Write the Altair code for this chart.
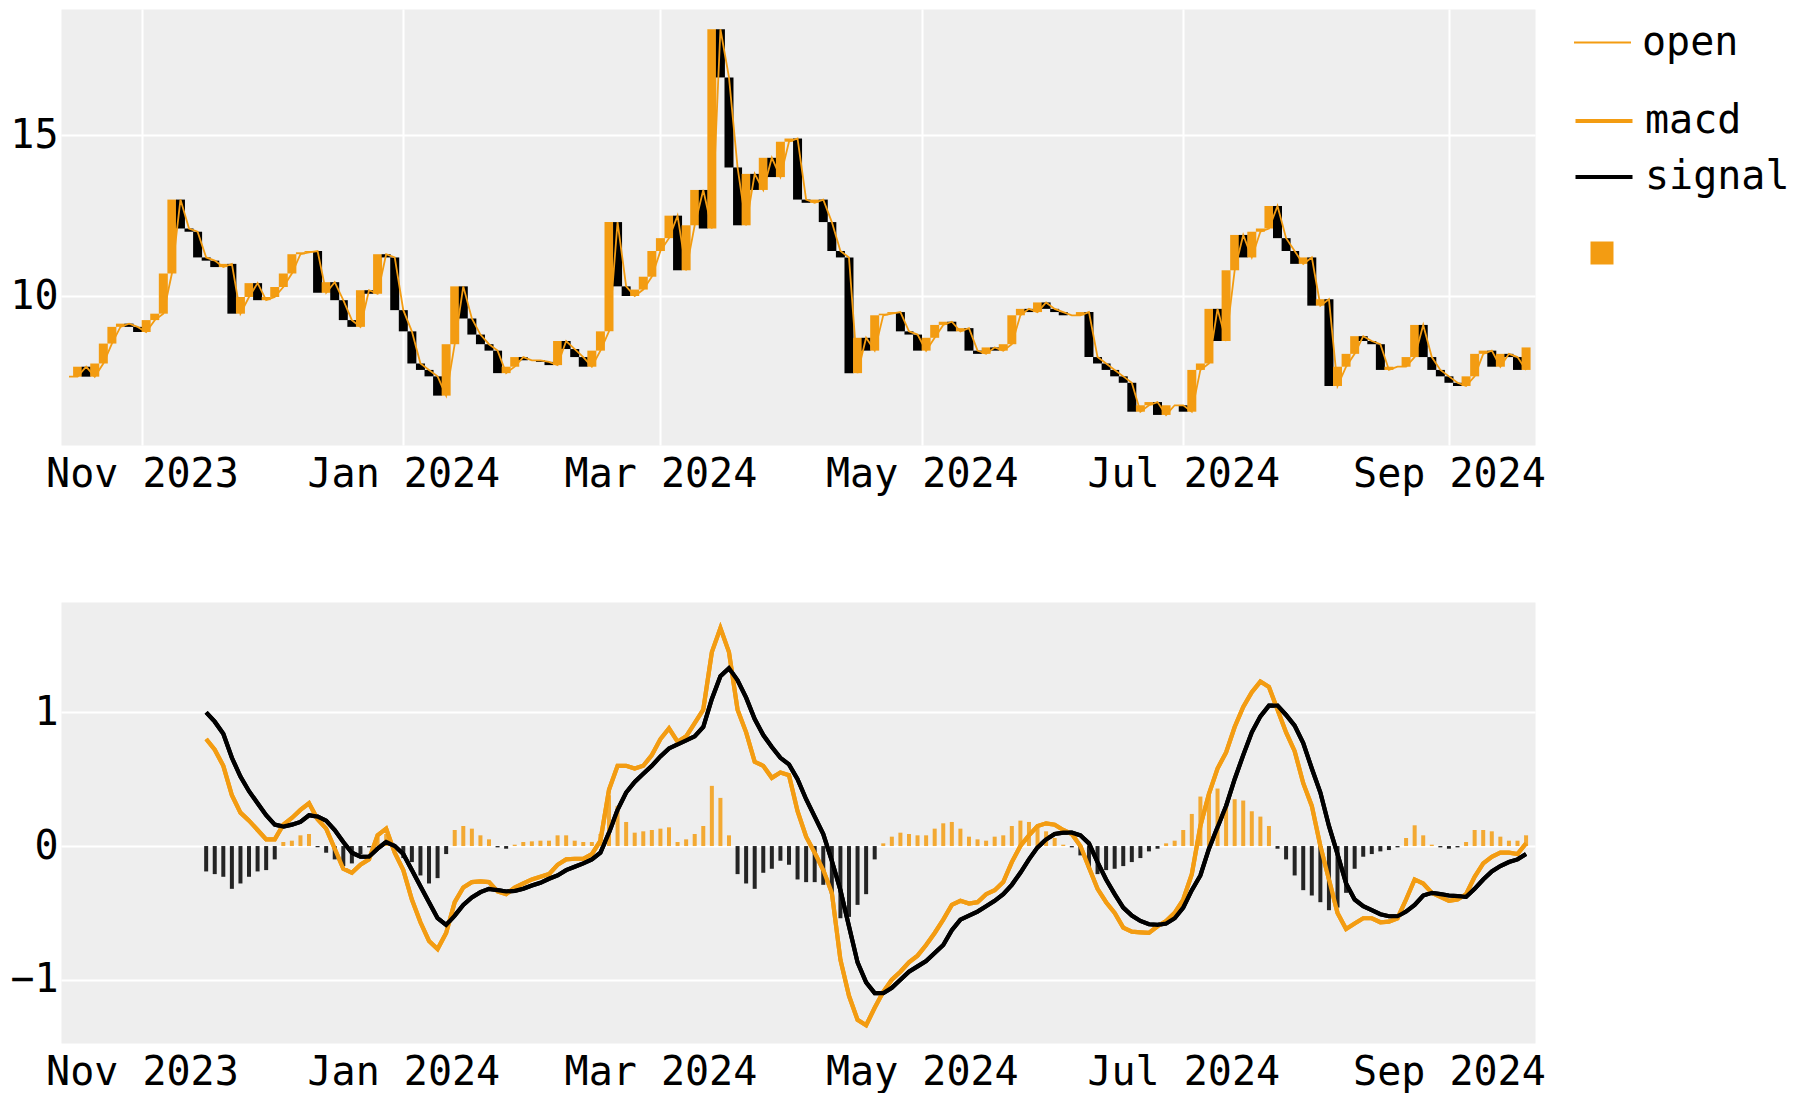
import altair as alt
import pandas as pd

ORANGE = "#f39c12"
BLACK = "#000000"
FONT = "DejaVu Sans Mono"

# ---- price series (every 2 days from 2023-10-15) ----
price_start = "2023-10-15"
close = [
    7.49, 7.8, 7.49, 7.9, 8.52, 9.04, 9.14, 9.04, 8.88,                       # Oct
    9.25, 9.45, 10.7, 13.0, 12.1, 12.0, 11.2, 11.1, 10.9, 11.0, 9.45, 9.97, 10.4, 9.87, 9.97,  # Nov
    10.28, 10.7, 11.3, 11.36, 11.4, 10.1, 10.43, 9.87, 9.25, 9.04, 10.18, 10.07, 11.3, 11.2, 9.56,  # Dec
    8.9, 7.9, 7.7, 7.5, 6.9, 8.5, 10.3, 9.3, 8.8, 8.5, 8.3, 7.6, 7.8, 8.1, 8.0, 8.0,  # Jan
    7.95, 7.85, 8.6, 8.35, 8.1, 7.8, 8.3, 8.9, 12.3, 10.3, 10.0, 10.2, 10.6, 11.4,  # Feb
    11.8, 12.5, 10.8, 12.2, 13.3, 12.1, 18.3, 16.8, 14.0, 12.2, 13.8, 13.3, 14.3, 13.7, 14.8, 14.9,  # Mar
    13.0, 12.9, 13.0, 12.3, 11.4, 11.2, 7.6, 8.7, 8.3, 9.4, 9.45, 9.5, 8.9, 8.8, 8.3,  # Apr
    8.7, 9.1, 9.2, 8.9, 9.0, 8.3, 8.2, 8.4, 8.3, 8.5, 9.4, 9.6, 9.5, 9.8, 9.6,  # May
    9.5, 9.4, 9.4, 9.5, 8.1, 7.9, 7.7, 7.5, 7.3, 6.4, 6.6, 6.7, 6.3, 6.6, 6.6,  # Jun
    6.4, 7.7, 7.9, 9.6, 8.6, 10.8, 11.9, 11.2, 12.0, 12.1, 12.8, 11.8, 11.4, 11.0, 11.2, 9.7,  # Jul
    9.9, 7.2, 7.8, 8.2, 8.75, 8.6, 8.5, 7.7, 7.8, 7.8, 8.1, 9.1, 8.1, 7.7, 7.5,  # Aug
    7.3, 7.2, 7.5, 8.2, 8.3, 7.8, 8.2, 8.1, 7.7, 8.4,  # Sep
]

# ---- MACD series (every 2 days from 2023-11-16) ----
macd_start = "2023-11-16"
macd = [
    0.80, 0.72, 0.60, 0.38, 0.25, 0.19, 0.12, 0.05,
    0.05, 0.16, 0.21, 0.27, 0.32, 0.20, 0.13, -0.02, -0.17, -0.20, -0.14, -0.10, 0.08, 0.13, -0.05,
    -0.18, -0.40, -0.57, -0.71, -0.77, -0.65, -0.42, -0.31, -0.27, -0.265, -0.27, -0.34, -0.36, -0.31, -0.28, -0.25,
    -0.23, -0.21, -0.14, -0.10, -0.095, -0.095, -0.06, 0.04, 0.42, 0.60, 0.60, 0.58, 0.60, 0.68,
    0.80, 0.88, 0.78, 0.82, 0.92, 1.02, 1.45, 1.63, 1.45, 1.02, 0.85, 0.63, 0.60, 0.51, 0.55, 0.53,
    0.26, 0.07, -0.05, -0.18, -0.35, -0.85, -1.12, -1.30, -1.34, -1.21, -1.09, -1.00, -0.94, -0.87, -0.82,
    -0.74, -0.65, -0.55, -0.44, -0.41, -0.43, -0.42, -0.36, -0.33, -0.27, -0.12, 0.00, 0.08, 0.15, 0.17,
    0.16, 0.12, 0.09, 0.00, -0.16, -0.32, -0.42, -0.50, -0.61, -0.64, -0.645, -0.65, -0.60, -0.56, -0.50,
    -0.40, -0.21, 0.15, 0.39, 0.58, 0.70, 0.89, 1.04, 1.15, 1.23, 1.19, 1.02, 0.85, 0.71, 0.47, 0.30,
    0.00, -0.25, -0.50, -0.62, -0.58, -0.54, -0.54, -0.57, -0.565, -0.54, -0.40, -0.25, -0.28, -0.35, -0.38,
    -0.41, -0.40, -0.36, -0.23, -0.13, -0.08, -0.05, -0.05, -0.06, 0.02,
]
signal = [
    1.00, 0.93, 0.84, 0.66, 0.52, 0.41, 0.32, 0.23,
    0.16, 0.145, 0.16, 0.18, 0.23, 0.22, 0.19, 0.12, 0.03, -0.05, -0.08, -0.08, -0.02, 0.03, 0.00,
    -0.06, -0.18, -0.30, -0.42, -0.54, -0.59, -0.52, -0.44, -0.385, -0.345, -0.32, -0.33, -0.34, -0.335, -0.32, -0.295,
    -0.275, -0.245, -0.22, -0.18, -0.155, -0.13, -0.10, -0.05, 0.10, 0.27, 0.40, 0.48, 0.54, 0.60,
    0.67, 0.73, 0.76, 0.79, 0.82, 0.89, 1.10, 1.27, 1.33, 1.24, 1.11, 0.95, 0.83, 0.74, 0.66, 0.61,
    0.50, 0.35, 0.22, 0.09, -0.11, -0.33, -0.60, -0.87, -1.02, -1.10, -1.10, -1.06, -1.00, -0.94, -0.90,
    -0.86, -0.80, -0.74, -0.63, -0.55, -0.52, -0.49, -0.45, -0.41, -0.36, -0.29, -0.20, -0.10, -0.01, 0.05,
    0.09, 0.10, 0.10, 0.08, 0.02, -0.12, -0.25, -0.36, -0.46, -0.52, -0.56, -0.585, -0.59, -0.58, -0.54,
    -0.46, -0.33, -0.22, -0.02, 0.14, 0.30, 0.50, 0.68, 0.85, 0.97, 1.05, 1.05, 0.98, 0.90, 0.77, 0.58,
    0.40, 0.15, -0.06, -0.28, -0.40, -0.45, -0.48, -0.51, -0.525, -0.525, -0.49, -0.44, -0.37, -0.35, -0.36,
    -0.37, -0.375, -0.38, -0.32, -0.25, -0.19, -0.15, -0.12, -0.10, -0.06,
]
hist = [
    -0.19, -0.21, -0.23, -0.32, -0.28, -0.23, -0.19, -0.18,
    -0.10, 0.03, 0.04, 0.08, 0.09, -0.01, -0.05, -0.10, -0.15, -0.13, -0.06, -0.01, 0.07, 0.09, -0.02,
    -0.09, -0.12, -0.22, -0.28, -0.24, -0.06, 0.12, 0.15, 0.13, 0.08, 0.05, -0.01, -0.02, 0.01, 0.03, 0.035,
    0.04, 0.04, 0.08, 0.08, 0.04, 0.03, 0.03, 0.09, 0.38, 0.30, 0.18, 0.10, 0.11, 0.12,
    0.13, 0.14, 0.03, 0.05, 0.09, 0.15, 0.45, 0.36, 0.08, -0.21, -0.28, -0.32, -0.20, -0.17, -0.11, -0.14,
    -0.25, -0.27, -0.27, -0.29, -0.36, -0.54, -0.53, -0.44, -0.36, -0.10, 0.02, 0.07, 0.10, 0.09, 0.08,
    0.08, 0.13, 0.17, 0.18, 0.13, 0.07, 0.05, 0.04, 0.07, 0.08, 0.15, 0.19, 0.18, 0.14, 0.11,
    0.06, 0.01, -0.01, -0.07, -0.17, -0.21, -0.18, -0.17, -0.15, -0.12, -0.09, -0.04, -0.02, 0.02, 0.04,
    0.12, 0.24, 0.37, 0.40, 0.43, 0.30, 0.35, 0.34, 0.26, 0.22, 0.15, -0.02, -0.10, -0.22, -0.33, -0.37,
    -0.42, -0.48, -0.46, -0.35, -0.17, -0.08, -0.06, -0.04, -0.03, -0.01, 0.06, 0.155, 0.08, 0.01, -0.01,
    -0.02, -0.01, 0.03, 0.12, 0.12, 0.11, 0.07, 0.04, 0.04, 0.08,
]

tick_dates = [(2023, 11), (2024, 1), (2024, 3), (2024, 5), (2024, 7), (2024, 9)]

# ---- tables ----
pdates = pd.date_range(price_start, periods=len(close), freq="2D").strftime("%Y-%m-%d")
top_df = pd.DataFrame({"date": pdates, "close": close})
top_df["open"] = [close[0]] + close[:-1]
top_df["series"] = "open"

mdates = pd.date_range(macd_start, periods=len(macd), freq="2D").strftime("%Y-%m-%d")
bot_df = pd.DataFrame({"date": mdates, "macd": macd, "signal": signal, "hist": hist})
bot_df["hl"] = "hist"
bot_long = bot_df.melt(id_vars=["date"], value_vars=["macd", "signal"],
                       var_name="series", value_name="value")

W = 1474
LX = 1512

x_domain = [alt.DateTime(year=2023, month=10, date=14, hours=7, utc=True),
            alt.DateTime(year=2024, month=9, date=19, hours=22, utc=True)]
x_values = [alt.DateTime(year=y, month=m, date=1, utc=True) for y, m in tick_dates]


def xenc(grid):
    return alt.X("date:T",
                 scale=alt.Scale(type="utc", domain=x_domain),
                 axis=alt.Axis(values=x_values, format="%b %Y", title=None,
                               grid=grid, labelFlush=False, labelLimit=0))


# ---- top panel ----
ytop = alt.Y("open:Q", scale=alt.Scale(domain=[5.364, 18.93], nice=False, zero=False),
             axis=alt.Axis(values=[10, 15], title=None))
candles = alt.Chart(top_df).mark_bar(size=9).encode(
    x=xenc(True),
    y=ytop,
    y2="close:Q",
    color=alt.condition("datum.close >= datum.open", alt.value(ORANGE), alt.value(BLACK)),
)
open_line = alt.Chart(top_df).mark_line(strokeWidth=1.8).encode(
    x=xenc(True),
    y=ytop,
    color=alt.Color("series:N", scale=alt.Scale(domain=["open"], range=[ORANGE]),
                    legend=alt.Legend(orient="none", legendX=LX, legendY=4, title=None,
                                      symbolType="stroke", symbolSize=3249,
                                      symbolStrokeWidth=1.8, labelOffset=10,
                                      padding=0, rowPadding=1)),
)
top = alt.layer(candles, open_line).properties(width=W, height=436)

# ---- bottom panel ----
ydom_b = [-1.473, 1.825]
ybot = alt.Y("value:Q", scale=alt.Scale(domain=ydom_b, nice=False, zero=False),
             axis=alt.Axis(values=[-1, 0, 1], title=None))
lines = alt.Chart(bot_long).mark_line(strokeWidth=4.2).encode(
    x=xenc(False),
    y=ybot,
    stroke=alt.Stroke("series:N", scale=alt.Scale(domain=["macd", "signal"], range=[ORANGE, BLACK]),
                      legend=alt.Legend(orient="none", legendX=LX, legendY=81, title=None,
                                        symbolType="stroke", symbolSize=3249,
                                        symbolStrokeWidth=4.2, labelOffset=10,
                                        padding=0, rowPadding=5)),
)
bars = alt.Chart(bot_df).mark_bar(size=4, opacity=0.85).encode(
    x=xenc(False),
    y=alt.Y("hist:Q", scale=alt.Scale(domain=ydom_b, nice=False, zero=False),
            axis=alt.Axis(values=[-1, 0, 1], title=None)),
    y2=alt.datum(0),
    fill=alt.condition("datum.hist >= 0",
                       alt.Fill("hl:N", scale=alt.Scale(domain=["hist"], range=[ORANGE]),
                                legend=alt.Legend(orient="none", legendX=LX + 9, legendY=224,
                                                  title=None, symbolType="square",
                                                  symbolSize=529, labelExpr="''",
                                                  padding=0, symbolOpacity=1)),
                       alt.value(BLACK)),
)
bottom = alt.layer(lines, bars, lines).properties(width=W, height=441)

chart = (
    alt.vconcat(top, bottom, spacing=106)
    .resolve_scale(x="independent", y="independent")
    .properties(padding={"left": 0, "top": 0, "right": 0, "bottom": 0})
    .configure_view(fill="#eeeeee", stroke="transparent")
    .configure_axis(labelFont=FONT, labelFontSize=40, labelColor=BLACK,
                    domain=False, ticks=False, gridColor="#ffffff", gridWidth=2,
                    gridOpacity=1)
    .configure_axisX(labelPadding=9)
    .configure_axisY(labelPadding=3, minExtent=52)
    .configure_legend(labelFont=FONT, labelFontSize=40, labelColor=BLACK)
)

chart.save("out.html", embed_options={"renderer": "svg", "actions": False})
